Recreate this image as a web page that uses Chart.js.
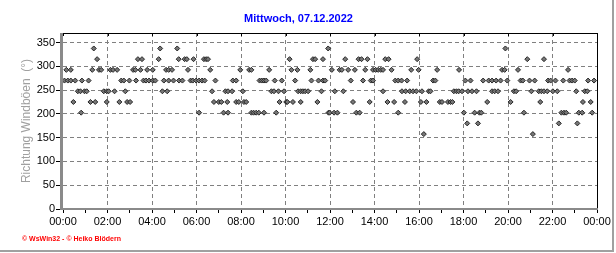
<!DOCTYPE html>
<html>
<head>
<meta charset="utf-8">
<script src="https://cdn.jsdelivr.net/npm/chart.js@4/dist/chart.umd.min.js"></script>
<style>
  html, body { margin: 0; padding: 0; background: #ffffff; }
  #wrap { position: relative; width: 616px; height: 253px; }
</style>
</head>
<body>
<div id="wrap"><canvas id="c" width="616" height="253"></canvas></div>
<script>
// ---- data ----
const chartTitle = "Mittwoch, 07.12.2022";
const yAxisTitle = "Richtung Windböen  (°)";
const footerText = "© WsWin32 - © Heiko Blödern";

const times = [
  "00:04","00:09","00:13","00:21","00:21","00:28","00:33","00:40","00:47","00:49","00:51","00:58",
  "01:04","01:09","01:14","01:19","01:23","01:27","01:32","01:37","01:43","01:50","01:58","01:58",
  "02:03","02:08","02:15","02:19","02:26","02:32","02:37","02:44","02:48","02:53","02:59",
  "03:01","03:09","03:15","03:17","03:22","03:29","03:33","03:37","03:44","03:47","03:52",
  "04:02","04:02","04:09","04:18","04:22","04:28","04:32","04:38","04:41","04:45","04:45","04:54","04:58",
  "05:08","05:12","05:13","05:22","05:28","05:34","05:37","05:44","05:50","05:52","05:59",
  "06:07","06:07","06:15","06:20","06:22","06:26","06:31","06:37","06:42","06:47","06:51",
  "07:00","07:07","07:13","07:18","07:23","07:25","07:25","07:36","07:38","07:47","07:47","07:54","07:58",
  "08:05","08:08","08:14","08:22","08:28","08:28","08:34","08:41","08:48","08:50","08:56",
  "09:02","09:02","09:08","09:16","09:22","09:29","09:31","09:35","09:41","09:44","09:50","09:56",
  "10:02","10:05","10:11","10:16","10:20","10:26","10:32","10:34","10:41","10:41","10:47","10:53",
  "11:01","11:07","11:10","11:14","11:20","11:26","11:29","11:37","11:41","11:41","11:47","11:55","11:56","11:59",
  "12:05","12:11","12:13","12:20","12:26","12:32","12:36","12:41","12:49","12:56",
  "13:02","13:07","13:11","13:17","13:20","13:25","13:29","13:35","13:41","13:47","13:50","13:56","13:56",
  "14:03","14:10","14:17","14:23","14:23","14:29","14:35","14:38","14:46","14:53","14:56",
  "15:04","15:04","15:13","15:14","15:22","15:24","15:28","15:35","15:39","15:44","15:53","15:55","15:59",
  "16:05","16:08","16:13","16:20","16:26","16:31","16:38","16:44","16:49","16:56",
  "17:02","17:18","17:25","17:30","17:34","17:41","17:47","17:48","17:56",
  "18:01","18:05","18:10","18:12","18:19","18:23","18:30","18:35","18:39","18:43","18:48","18:53",
  "19:04","19:08","19:17","19:17","19:24","19:28","19:33","19:40","19:44","19:51","19:53","19:58",
  "20:07","20:16","20:22","20:27","20:34","20:40","20:43","20:52","20:58",
  "21:03","21:07","21:12","21:23","21:27","21:30","21:37","21:37","21:46","21:48","21:55",
  "22:01","22:08","22:13","22:17","22:24","22:29","22:31","22:37","22:42","22:46","22:53",
  "23:00","23:04","23:07","23:11","23:20","23:22","23:27","23:34","23:36","23:43","23:47","23:52"
];

const directions = [
  270, 292.5, 270, 292.5, 270, 225, 270, 247.5, 247.5, 202.5, 270, 247.5,
  247.5, 270, 225, 292.5, 337.5, 225, 315, 292.5, 292.5, 247.5, 247.5, 225,
  247.5, 292.5, 292.5, 247.5, 292.5, 225, 270, 270, 247.5, 225, 270,
  225, 292.5, 292.5, 270, 315, 292.5, 315, 270, 270, 292.5, 270,
  292.5, 270, 270, 315, 337.5, 247.5, 270, 292.5, 247.5, 292.5, 270, 292.5, 270,
  337.5, 315, 270, 270, 315, 315, 292.5, 270, 270, 315, 270,
  270, 202.5, 270, 315, 270, 315, 315, 292.5, 247.5, 225, 270,
  225, 225, 202.5, 247.5, 225, 247.5, 202.5, 247.5, 270, 225, 270, 225, 292.5,
  247.5, 225, 225, 292.5, 292.5, 202.5, 202.5, 202.5, 202.5, 270, 270,
  270, 202.5, 270, 292.5, 247.5, 247.5, 270, 202.5, 247.5, 225, 270, 247.5,
  225, 225, 315, 292.5, 225, 270, 292.5, 247.5, 247.5, 225, 247.5, 247.5,
  247.5, 292.5, 270, 315, 315, 225, 270, 247.5, 315, 270, 270, 337.5, 202.5, 202.5,
  292.5, 202.5, 247.5, 202.5, 292.5, 292.5, 247.5, 315, 292.5, 270,
  225, 292.5, 202.5, 315, 202.5, 315, 270, 292.5, 315, 225, 270, 292.5, 270,
  292.5, 292.5, 292.5, 292.5, 247.5, 315, 225, 315, 292.5, 225, 270,
  270, 202.5, 270, 247.5, 225, 247.5, 270, 247.5, 292.5, 247.5, 247.5, 315, 292.5,
  225, 247.5, 157.5, 225, 247.5, 247.5, 270, 270, 292.5, 225,
  225, 225, 225, 225, 247.5, 247.5, 247.5, 292.5, 247.5,
  202.5, 270, 180, 247.5, 270, 247.5, 202.5, 247.5, 180, 202.5, 202.5, 270,
  225, 270, 270, 247.5, 247.5, 270, 247.5, 270, 292.5, 292.5, 337.5, 270,
  225, 247.5, 247.5, 292.5, 270, 270, 202.5, 315, 270,
  247.5, 157.5, 270, 247.5, 225, 247.5, 315, 247.5, 247.5, 270, 270,
  247.5, 270, 247.5, 180, 202.5, 270, 202.5, 202.5, 292.5, 270, 270,
  270, 247.5, 180, 202.5, 202.5, 225, 247.5, 247.5, 270, 225, 202.5, 270
];

const xTickHours = [0, 2, 4, 6, 8, 10, 12, 14, 16, 18, 20, 22, 24];
const yTickValues = [0, 50, 100, 150, 200, 250, 300, 350];

// ---- build points ----
function toHours(t) { const p = t.split(':'); return (+p[0]) + (+p[1]) / 60; }
const points = times.map((t, i) => ({ x: toHours(t), y: directions[i] }));
function fmtHour(v) { const h = v % 24; return (h < 10 ? '0' : '') + h + ':00'; }

const FONT = "'Liberation Sans', Arial, sans-serif";

const framePlugin = {
  id: 'frame',
  beforeDatasetsDraw(chart) {
    const { ctx, chartArea: a } = chart;
    ctx.save();
    // top and right black border
    ctx.fillStyle = '#000000';
    ctx.fillRect(a.left, a.top, a.right - a.left + 1, 1);
    ctx.fillRect(a.right, a.top, 1, a.bottom - a.top + 1);
    // thick grey left and bottom axis lines
    ctx.fillStyle = '#8a8a8a';
    ctx.fillRect(a.left - 3, a.top, 3, a.bottom - a.top + 1);
    ctx.fillRect(a.left - 3, a.bottom - 1, a.right - a.left + 4, 2);
    // small ticks on the top border at the labelled hours
    const xs = chart.scales.x;
    ctx.fillStyle = '#000000';
    xTickHours.forEach(h => {
      const px = Math.round(xs.getPixelForValue(h));
      ctx.fillRect(px, a.top, 1, 3);
    });
    ctx.restore();
  },
  afterDraw(chart) {
    const { ctx } = chart;
    ctx.save();
    // footer
    ctx.fillStyle = '#ff0000';
    ctx.font = "bold 7px " + FONT;
    ctx.textBaseline = 'middle';
    ctx.textAlign = 'left';
    ctx.fillText(footerText, 22, 239.5);
    // outer picture frame (right and bottom)
    ctx.fillStyle = '#a0a0a0';
    ctx.fillRect(612, 0, 2, 252);
    ctx.fillRect(0, 250, 614, 2);
    ctx.restore();
  }
};

new Chart(document.getElementById('c'), {
  type: 'scatter',
  data: {
    datasets: [{
      data: points,
      pointStyle: 'rectRot',
      pointRadius: 2.5,
      pointHoverRadius: 2.5,
      backgroundColor: '#767676',
      borderColor: '#262626',
      borderWidth: 1,
      showLine: false
    }]
  },
  options: {
    responsive: false,
    animation: false,
    devicePixelRatio: 1,
    events: [],
    layout: { padding: { left: 0, right: 19, top: 0, bottom: 0 } },
    plugins: {
      legend: { display: false },
      tooltip: { enabled: false },
      title: {
        display: true,
        text: chartTitle,
        color: '#0000ff',
        font: { family: FONT, size: 11, weight: 'bold', lineHeight: 1.2 },
        padding: { top: 12, bottom: 7.8 }
      }
    },
    scales: {
      x: {
        type: 'linear',
        min: 0, max: 24,
        afterFit(s) { s.height = 44; },
        ticks: {
          stepSize: 1,
          autoSkip: false,
          maxRotation: 0,
          includeBounds: false,
          padding: 2,
          color: '#000000',
          font: { family: FONT, size: 11 },
          callback: v => (xTickHours.includes(v) ? fmtHour(v) : '')
        },
        grid: {
          color: c => (c.tick && xTickHours.includes(c.tick.value) && c.tick.value > 0 && c.tick.value < 24) ? '#808080' : 'rgba(0,0,0,0)',
          lineWidth: 1,
          tickColor: '#000000',
          tickLength: 4,
          drawTicks: true
        },
        border: { display: false, dash: [4, 3] }
      },
      y: {
        min: 0, max: 370,
        afterFit(s) { s.width = 63; },
        afterBuildTicks(s) { s.ticks = yTickValues.map(v => ({ value: v })); },
        ticks: {
          stepSize: 50,
          includeBounds: false,
          padding: 1,
          color: '#000000',
          font: { family: FONT, size: 11 }
        },
        grid: {
          color: c => (c.tick && c.tick.value > 0) ? '#808080' : 'rgba(0,0,0,0)',
          lineWidth: 1,
          tickColor: '#000000',
          tickLength: 7
        },
        border: { display: false, dash: [4, 3] },
        title: {
          display: true,
          text: yAxisTitle,
          color: '#a0a0a0',
          font: { family: FONT, size: 12, lineHeight: 1.2 },
          padding: { top: 19.5, bottom: 0 }
        }
      }
    }
  },
  plugins: [framePlugin]
});
</script>
</body>
</html>
